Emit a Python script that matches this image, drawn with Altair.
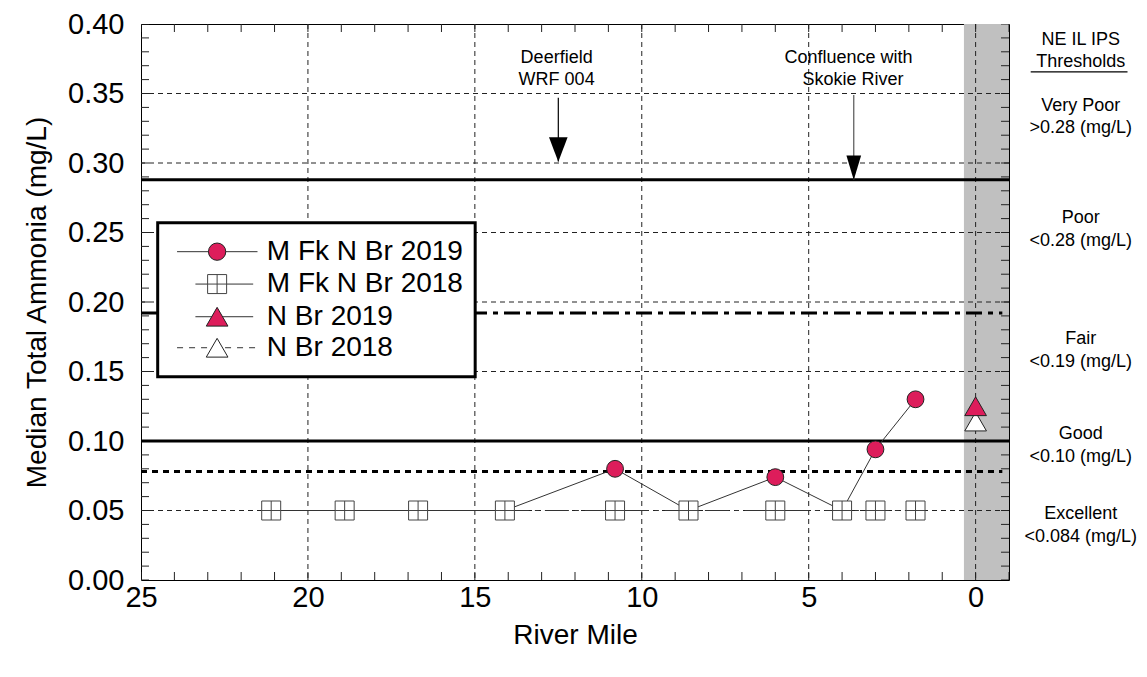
import altair as alt
import pandas as pd
import numpy as np

FONT = "Liberation Sans"
RED = "#DD1D5B"
W, H = 868, 556

# ---------------- data ----------------
mf2018_miles = [21.1, 18.9, 16.7, 14.1, 10.8, 8.6, 6.0, 4.0, 3.0, 1.8]
mf2018_values = [0.05, 0.05, 0.05, 0.05, 0.05, 0.05, 0.05, 0.05, 0.05, 0.05]
mf2019_miles = [14.1, 10.8, 8.6, 6.0, 4.0, 3.0, 1.8]
mf2019_values = [0.05, 0.08, 0.05, 0.074, 0.05, 0.094, 0.13]
nbr_miles = [0.0]
nbr2019_values = [0.125]
nbr2018_values = [0.114]

threshold_values = [0.288, 0.192, 0.100, 0.078]
threshold_ends = [-1.0, -0.8, -1.0, -0.8]
threshold_dashes = [None, [16, 6, 5, 6], None, [6, 5]]

x_tick_labels = [25, 20, 15, 10, 5, 0]
y_tick_labels = [0.0, 0.05, 0.10, 0.15, 0.20, 0.25, 0.30, 0.35, 0.40]
x_grid = [20, 15, 10, 5, 0]
y_grid = [0.05, 0.10, 0.15, 0.20, 0.25, 0.30, 0.35]

band_from, band_to = 0.35, -1.0

arrow_miles = [12.5, 3.65]
arrow_tops = [0.347, 0.349]
arrow_tips = [0.301, 0.288]
arrow_heads = ["M-0.76,-1L0.76,-1L0,1Z", "M-0.6,-1L0.6,-1L0,1Z"]
arrow_colors = ["black", "#555555"]

ann_labels = ["Deerfield", "WRF 004", "Confluence with", "Skokie River"]
ann_miles = [12.55, 12.55, 3.81, 3.67]
ann_values = [0.3753, 0.3597, 0.3753, 0.3597]

side_labels = ["NE IL IPS", "Thresholds", "Very Poor", ">0.28 (mg/L)", "Poor",
               "<0.28 (mg/L)", "Fair", "<0.19 (mg/L)", "Good", "<0.10 (mg/L)",
               "Excellent", "<0.084 (mg/L)"]
side_values = [0.3885, 0.3727, 0.3410, 0.3252, 0.2604, 0.2439, 0.1734, 0.1568,
               0.1050, 0.0885, 0.0475, 0.0309]
side_mile = -3.15

legend_labels = ["M Fk N Br 2019", "M Fk N Br 2018", "N Br 2019", "N Br 2018"]
legend_rows = [0.2362, 0.2129, 0.1894, 0.1671]
legend_line_from = [23.92, 23.37, 23.37, 23.92]
legend_line_to = [21.51, 21.64, 21.64, 21.51]
legend_symbol_mile = 22.72
legend_text_mile = 21.23
legend_box = dict(x1=[24.50], x2=[14.99], y1=[0.2571], y2=[0.1463])

# ---------------- encodings ----------------
xs = alt.Scale(domain=[25, -1], nice=False, zero=False)
ys = alt.Scale(domain=[0, 0.4], nice=False, zero=False)

xaxis = alt.Axis(values=x_tick_labels, format="d", grid=False, ticks=False, tickSize=0,
                 domain=False, labelFlush=False, labelFontSize=29, labelPadding=3,
                 labelFont=FONT, labelColor="black", titleFont=FONT, titleFontSize=28,
                 titleFontWeight="normal", titleColor="black", titlePadding=9)
yaxis = alt.Axis(values=y_tick_labels, format=".2f", grid=False, ticks=False, tickSize=0,
                 domain=False, labelFlush=False, labelFontSize=29, labelPadding=17,
                 labelFont=FONT, labelColor="black", titleFont=FONT, titleFontSize=28,
                 titleFontWeight="normal", titleColor="black", titlePadding=16)


def X(field="mile"):
    return alt.X(f"{field}:Q", scale=xs, axis=xaxis, title="River Mile")


def Y(field="value"):
    return alt.Y(f"{field}:Q", scale=ys, axis=yaxis, title="Median Total Ammonia (mg/L)")


layers = []

# gray band (N Br)
layers.append(
    alt.Chart(pd.DataFrame({"mile": [band_from], "mile2": [band_to]}))
    .mark_rect(color="#c0c0c0")
    .encode(x=X(), x2="mile2:Q", y=alt.value(0), y2=alt.value(H))
)

# grid
layers.append(
    alt.Chart(pd.DataFrame({"mile": x_grid}))
    .mark_rule(color="#222222", strokeWidth=1, strokeDash=[5, 4])
    .encode(x=X())
)
layers.append(
    alt.Chart(pd.DataFrame({"value": y_grid}))
    .mark_rule(color="#222222", strokeWidth=1, strokeDash=[5, 4])
    .encode(y=Y())
)

# inside minor ticks
ytick_vals = [round(v, 2) for v in np.arange(0, 0.4001, 0.01)]
xtick_vals = list(range(-1, 26))
for xv in [0, W]:
    layers.append(
        alt.Chart(pd.DataFrame({"value": ytick_vals}))
        .mark_tick(orient="horizontal", size=16, thickness=1, color="#222222", opacity=1, clip=True)
        .encode(x=alt.value(xv), y=Y())
    )
for yv in [0, H]:
    layers.append(
        alt.Chart(pd.DataFrame({"mile": xtick_vals}))
        .mark_tick(orient="vertical", size=16, thickness=1, color="#222222", opacity=1, clip=True)
        .encode(x=X(), y=alt.value(yv))
    )

# threshold lines
for v, e, d in zip(threshold_values, threshold_ends, threshold_dashes):
    kw = dict(color="black", strokeWidth=3)
    if d is not None:
        kw["strokeDash"] = d
    layers.append(
        alt.Chart(pd.DataFrame({"start": [25.0], "end": [e], "value": [v]}))
        .mark_rule(**kw)
        .encode(x=X("start"), x2="end:Q", y=Y())
    )

# arrows
for m, t, tip, head, col in zip(arrow_miles, arrow_tops, arrow_tips, arrow_heads, arrow_colors):
    df = pd.DataFrame({"mile": [m], "top": [t], "tip": [tip]})
    layers.append(
        alt.Chart(df).mark_rule(color=col, strokeWidth=1.2)
        .encode(x=X(), y=Y("top"), y2="tip:Q")
    )
    layers.append(
        alt.Chart(df).mark_point(shape=head, size=600, filled=True, color="black",
                                 opacity=1, yOffset=-12)
        .encode(x=X(), y=Y("tip"))
    )

# annotation text
layers.append(
    alt.Chart(pd.DataFrame({"mile": ann_miles, "value": ann_values, "label": ann_labels}))
    .mark_text(font=FONT, fontSize=18, color="black", align="center", baseline="middle")
    .encode(x=X(), y=Y(), text="label:N")
)

# data lines
df18 = pd.DataFrame({"mile": mf2018_miles, "value": mf2018_values})
df19 = pd.DataFrame({"mile": mf2019_miles, "value": mf2019_values})
layers.append(
    alt.Chart(df18).transform_filter(alt.datum.mile >= 14.1)
    .mark_line(color="#333333", strokeWidth=1)
    .encode(x=X(), y=Y())
)
layers.append(
    alt.Chart(df18).transform_filter(alt.datum.mile <= 14.1)
    .mark_line(color="#333333", strokeWidth=1, strokeDash=[24, 6, 4, 6])
    .encode(x=X(), y=Y())
)
layers.append(
    alt.Chart(df19).mark_line(color="#333333", strokeWidth=1)
    .encode(x=X(), y=Y())
)

# markers
layers.append(
    alt.Chart(df19).mark_point(shape="circle", size=283, filled=True, fill=RED,
                               stroke="#222222", strokeWidth=1, opacity=1)
    .encode(x=X(), y=Y())
)
layers.append(
    alt.Chart(df18).mark_point(shape="square", size=361, filled=True, fill="white",
                               stroke="#444444", strokeWidth=1, opacity=1)
    .encode(x=X(), y=Y())
)
layers.append(
    alt.Chart(df18).mark_point(shape="M-1,0L1,0M0,-1L0,1", size=361, filled=False,
                               stroke="#444444", strokeWidth=1, opacity=1)
    .encode(x=X(), y=Y())
)
layers.append(
    alt.Chart(pd.DataFrame({"mile": nbr_miles, "value": nbr2018_values}))
    .mark_point(shape="triangle-up", size=470, filled=True, fill="white",
                stroke="#222222", strokeWidth=1, opacity=1)
    .encode(x=X(), y=Y())
)
layers.append(
    alt.Chart(pd.DataFrame({"mile": nbr_miles, "value": nbr2019_values}))
    .mark_point(shape="triangle-up", size=470, filled=True, fill=RED,
                stroke="#222222", strokeWidth=1, opacity=1)
    .encode(x=X(), y=Y())
)

# right-hand threshold text
layers.append(
    alt.Chart(pd.DataFrame({"mile": [side_mile] * len(side_labels), "value": side_values,
                            "label": side_labels}))
    .mark_text(font=FONT, fontSize=18, color="black", align="center", baseline="middle")
    .encode(x=X(), y=Y(), text="label:N")
)
layers.append(
    alt.Chart(pd.DataFrame({"mile": [-1.65], "mile2": [-4.55], "value": [0.3655]}))
    .mark_rule(color="black", strokeWidth=1.2)
    .encode(x=X(), x2="mile2:Q", y=Y())
)

# legend
layers.append(
    alt.Chart(pd.DataFrame(legend_box))
    .mark_rect(fill="white", stroke="black", strokeWidth=3)
    .encode(x=X("x1"), x2="x2:Q", y=Y("y1"), y2="y2:Q")
)
for i in range(4):
    kw = dict(color="#333333", strokeWidth=1)
    if i == 3:
        kw["strokeDash"] = [6, 6]
    layers.append(
        alt.Chart(pd.DataFrame({"mile": [legend_line_from[i]], "mile2": [legend_line_to[i]],
                                "value": [legend_rows[i]]}))
        .mark_rule(**kw)
        .encode(x=X(), x2="mile2:Q", y=Y())
    )
sym_df = lambda i: pd.DataFrame({"mile": [legend_symbol_mile], "value": [legend_rows[i]]})
layers.append(alt.Chart(sym_df(0)).mark_point(shape="circle", size=300, filled=True, fill=RED,
              stroke="#222222", strokeWidth=1, opacity=1).encode(x=X(), y=Y()))
layers.append(alt.Chart(sym_df(1)).mark_point(shape="square", size=361, filled=True, fill="white",
              stroke="#444444", strokeWidth=1, opacity=1).encode(x=X(), y=Y()))
layers.append(alt.Chart(sym_df(1)).mark_point(shape="M-1,0L1,0M0,-1L0,1", size=361, filled=False,
              stroke="#444444", strokeWidth=1, opacity=1).encode(x=X(), y=Y()))
layers.append(alt.Chart(sym_df(2)).mark_point(shape="triangle-up", size=470, filled=True, fill=RED,
              stroke="#222222", strokeWidth=1, opacity=1).encode(x=X(), y=Y()))
layers.append(alt.Chart(sym_df(3)).mark_point(shape="triangle-up", size=470, filled=True, fill="white",
              stroke="#222222", strokeWidth=1, opacity=1).encode(x=X(), y=Y()))
layers.append(
    alt.Chart(pd.DataFrame({"mile": [legend_text_mile] * 4, "value": legend_rows,
                            "label": legend_labels}))
    .mark_text(font=FONT, fontSize=28, color="black", align="left", baseline="middle")
    .encode(x=X(), y=Y(), text="label:N")
)

chart = (
    alt.layer(*layers)
    .properties(width=W, height=H,
                padding={"left": 133, "top": 16, "right": 130, "bottom": 90},
                autosize=alt.AutoSizeParams(type="none"), background="white")
    .configure_view(stroke="black", strokeWidth=1)
)

chart.save("out.html", embed_options={"renderer": "svg", "actions": False})
